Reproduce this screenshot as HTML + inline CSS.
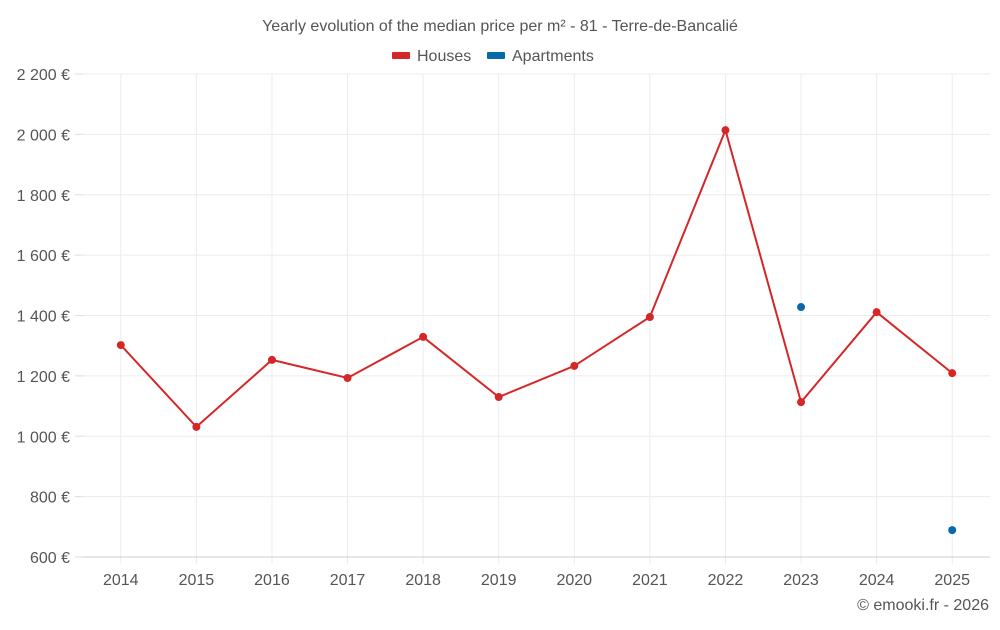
<!DOCTYPE html>
<html><head><meta charset="utf-8"><style>
body{margin:0;background:#fff;width:1000px;height:625px;overflow:hidden;font-family:"Liberation Sans",sans-serif}
svg text{font-family:"Liberation Sans",sans-serif}
</style></head><body>
<svg id="chart" width="1000" height="625" xmlns="http://www.w3.org/2000/svg">
<text x="500" y="31" text-anchor="middle" font-size="16" fill="#555">Yearly evolution of the median price per m² - 81 - Terre-de-Bancalié</text>
<g>
<g><rect x="392" y="52" width="18" height="7" rx="1" fill="#d62728"/><text x="417" y="61" font-size="16" fill="#555">Houses</text></g>
<g><rect x="487" y="52" width="18" height="7" rx="1" fill="#0868ac"/><text x="512" y="61" font-size="16" fill="#555">Apartments</text></g>
</g>
<g id="grid"></g>
<g id="axes"></g>
<g id="series"></g>
<text x="989" y="610" text-anchor="end" font-size="16" fill="#555">© emooki.fr - 2026</text>
</svg>
<script>
const years=["2014","2015","2016","2017","2018","2019","2020","2021","2022","2023","2024","2025"];
const houses=[1302,1031,1253,1193,1329,1130,1233,1395,2014,1113,1411,1209];
const apartments=[null,null,null,null,null,null,null,null,null,1428,null,689];
const yTicks=[600,800,1000,1200,1400,1600,1800,2000,2200];
const yLabels=["600 €","800 €","1 000 €","1 200 €","1 400 €","1 600 €","1 800 €","2 000 €","2 200 €"];
const L=83,R=990,T=74,B=557,NS="http://www.w3.org/2000/svg";
const bw=(R-L)/years.length;
const x=i=>L+bw*(i+0.5);
const y=v=>B-(v-600)/(2200-600)*(B-T);
function mk(tag,attrs,parent){const e=document.createElementNS(NS,tag);for(const k in attrs)e.setAttribute(k,attrs[k]);parent.appendChild(e);return e;}
const grid=document.getElementById('grid'),axes=document.getElementById('axes'),ser=document.getElementById('series');
yTicks.forEach((v,i)=>{
 if(i>0){const g=mk('line',{x1:L,x2:R,y1:y(v),y2:y(v),stroke:'#ececec'},grid);
 
 }
 const t=mk('text',{x:70,y:y(v)+6,'text-anchor':'end','font-size':16,fill:'#555'},axes);t.textContent=yLabels[i];
 
 
 mk('line',{x1:75,x2:L,y1:y(v),y2:y(v),stroke:'#ddd'},axes);
});
years.forEach((yr,i)=>{
 const g=mk('line',{x1:x(i),x2:x(i),y1:T,y2:B+7,stroke:'#ececec'},grid);
 
 
 const t=mk('text',{x:x(i),y:585,'text-anchor':'middle','font-size':16,fill:'#555'},axes);t.textContent=yr;
 
 
});
const ax=mk('line',{x1:L,x2:R,y1:B,y2:B,stroke:'#ccc'},axes);


const ln=mk('polyline',{points:houses.map((v,i)=>x(i)+','+y(v)).join(' '),fill:'none',stroke:'#d62728','stroke-width':2},ser);


houses.forEach((v,i)=>{const c=mk('circle',{cx:x(i),cy:y(v),r:4,fill:'#d62728'},ser);
 
 });
apartments.forEach((v,i)=>{if(v==null)return;const c=mk('circle',{cx:x(i),cy:y(v),r:4,fill:'#0868ac'},ser);
 
 });
</script>
</body></html>
